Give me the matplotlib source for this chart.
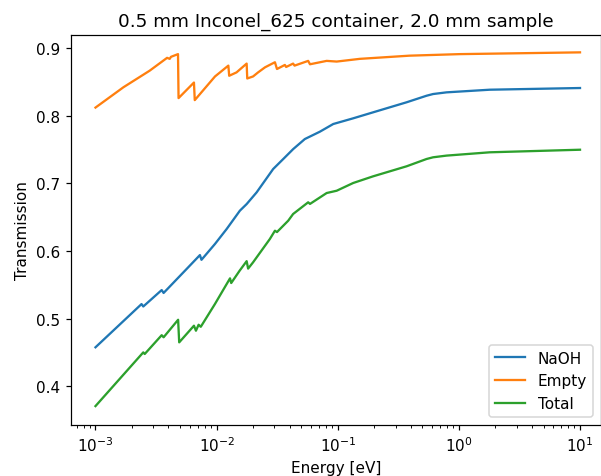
import matplotlib
matplotlib.use("Agg")
import matplotlib.pyplot as plt

# NaOH transmission
naoh_energy = [0.001, 0.00240, 0.00248, 0.00352, 0.00365, 0.00565, 0.00728, 0.0075,
               0.00968, 0.0121, 0.01556, 0.0177, 0.0214, 0.0293, 0.0355, 0.0429,
               0.0535, 0.0711, 0.0918, 0.134, 0.196, 0.370, 0.541, 0.612, 0.791,
               1.80, 10.0]
naoh_value = [0.4577, 0.5216, 0.518, 0.5423, 0.538, 0.5734, 0.594, 0.587,
              0.6103, 0.6325, 0.6596, 0.6694, 0.6867, 0.7212, 0.736, 0.7507,
              0.7655, 0.7763, 0.7877, 0.7961, 0.805, 0.8198, 0.8295, 0.832, 0.8345,
              0.8384, 0.8409]

# Empty container transmission
empty_energy = [0.001, 0.0017, 0.0028, 0.0039, 0.0041, 0.0042, 0.0048, 0.00485,
                0.0065, 0.0066, 0.0097, 0.0125, 0.0127, 0.0146, 0.0177, 0.0179,
                0.0200, 0.0220, 0.0251, 0.0303, 0.0315, 0.0366, 0.0375, 0.0428,
                0.044, 0.057, 0.059, 0.081, 0.098, 0.152, 0.39, 1.02, 10.0]
empty_value = [0.812, 0.842, 0.8665, 0.8855, 0.884, 0.887, 0.891, 0.826,
               0.849, 0.823, 0.858, 0.874, 0.859, 0.864, 0.877, 0.855,
               0.858, 0.864, 0.8715, 0.879, 0.869, 0.875, 0.872, 0.877,
               0.874, 0.881, 0.876, 0.881, 0.880, 0.884, 0.8887, 0.891, 0.8936]

# Total transmission
total_energy = [0.001, 0.00248, 0.00255, 0.00352, 0.00365, 0.00481, 0.00491, 0.0065,
                0.00675, 0.0071, 0.0074, 0.00968, 0.0129, 0.0132, 0.0155, 0.0177,
                0.0182, 0.0200, 0.0275, 0.0303, 0.0315, 0.0390, 0.0428, 0.0570,
                0.059, 0.081, 0.098, 0.134, 0.196, 0.370, 0.541, 0.612, 0.791,
                1.80, 10.0]
total_value = [0.3708, 0.4502, 0.4478, 0.4756, 0.4725, 0.4984, 0.465, 0.4896,
               0.4822, 0.491, 0.488, 0.5216, 0.5596, 0.5527, 0.571, 0.585,
               0.574, 0.5833, 0.6177, 0.630, 0.628, 0.6448, 0.6547, 0.672,
               0.6696, 0.6857, 0.6891, 0.7005, 0.7104, 0.7252, 0.736, 0.7385, 0.741,
               0.7459, 0.7497]

DPI = 110
fig = plt.figure(figsize=(601 / DPI, 477 / DPI), dpi=DPI)
ax = fig.add_axes([71 / 601, 1 - 425.7 / 477, 529.5 / 601, 390 / 477])

ax.plot(naoh_energy, naoh_value, color="tab:blue", label="NaOH")
ax.plot(empty_energy, empty_value, color="tab:orange", label="Empty")
ax.plot(total_energy, total_value, color="tab:green", label="Total")

ax.set_xscale("log")
ax.set_xlim(10 ** (-3 - 24.5 / 121.2), 10 ** (1 + 20.5 / 121.2))
ax.set_ylim(0.3433, 0.9197)
ax.set_yticks([0.4, 0.5, 0.6, 0.7, 0.8, 0.9])
ax.set_xlabel("Energy [eV]")
ax.set_ylabel("Transmission")
ax.set_title("0.5 mm Inconel_625 container, 2.0 mm sample")
ax.legend(loc="lower right")

fig.savefig("out.png", dpi=DPI)
